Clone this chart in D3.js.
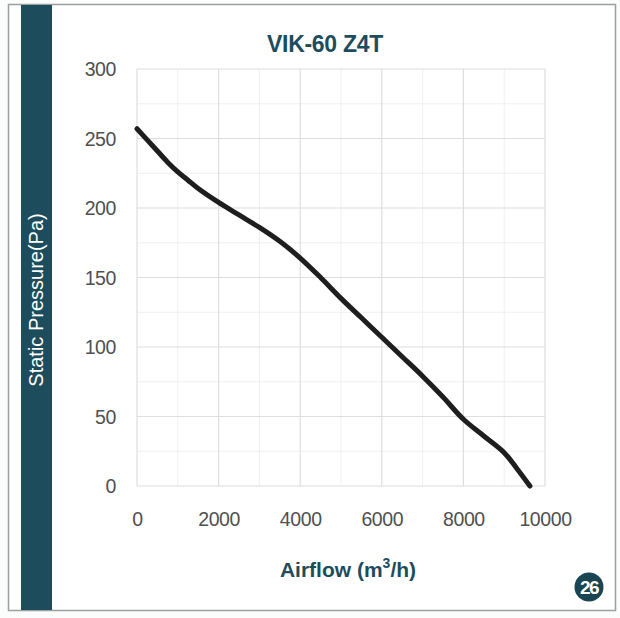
<!DOCTYPE html>
<html><head><meta charset="utf-8">
<script src="https://cdn.jsdelivr.net/npm/d3@7"></script>
<style>body{margin:0;background:#fff;}svg{display:block;}</style>
</head><body>
<svg id="c" width="620" height="618"></svg>
<script>
const title = "VIK-60 Z4T";
const airflow = [0, 250, 500, 750, 1000, 1250, 1500, 2000, 2500, 3000, 3500, 4000, 4500, 5000, 5500, 6000, 6500, 7000, 7500, 8000, 8500, 9000, 9300, 9630];
const pressure = [257, 249, 241, 233, 226, 220, 214, 204, 195, 186, 176, 164, 150, 135, 121, 107, 93, 79, 64, 48, 36, 24, 13, 0];
const xTicks = [0, 2000, 4000, 6000, 8000, 10000];
const yTicks = [0, 50, 100, 150, 200, 250, 300];
const xMinor = [1000, 3000, 5000, 7000, 9000];
const yMinor = [25, 75, 125, 175, 225, 275];

const svg = d3.select("#c");
const teal = "#1d4d5c";
const font = "Liberation Sans, Arial, sans-serif";
// frame
svg.append("rect").attr("x", 0).attr("y", 0).attr("width", 620).attr("height", 618).attr("fill", "#fbfdfd");
svg.append("rect").attr("x", 8.5).attr("y", 4.5).attr("width", 607).attr("height", 606)
  .attr("fill", "#ffffff").attr("stroke", "#9aa0a0").attr("stroke-width", 1.5);
svg.append("rect").attr("x", 21).attr("y", 5).attr("width", 31).attr("height", 605).attr("fill", teal);

const x = d3.scaleLinear().domain([0, 10000]).range([137, 545]);
const y = d3.scaleLinear().domain([0, 300]).range([486, 69]);

const g = svg.append("g");
// minor grid
g.selectAll(".vx").data(xMinor).join("line")
  .attr("x1", d => x(d)).attr("x2", d => x(d)).attr("y1", y(0)).attr("y2", y(300))
  .attr("stroke", "#f0f0f0").attr("stroke-width", 1);
g.selectAll(".hy").data(yMinor).join("line")
  .attr("y1", d => y(d)).attr("y2", d => y(d)).attr("x1", x(0)).attr("x2", x(10000))
  .attr("stroke", "#f0f0f0").attr("stroke-width", 1);
// major grid
g.selectAll(".mx").data(xTicks).join("line")
  .attr("x1", d => x(d)).attr("x2", d => x(d)).attr("y1", y(0)).attr("y2", y(300))
  .attr("stroke", "#dedede").attr("stroke-width", 1.2);
g.selectAll(".my").data(yTicks).join("line")
  .attr("y1", d => y(d)).attr("y2", d => y(d)).attr("x1", x(0)).attr("x2", x(10000))
  .attr("stroke", "#dedede").attr("stroke-width", 1.2);

// axes via d3
const xAxis = svg.append("g").attr("transform", `translate(0,${y(0)})`)
  .call(d3.axisBottom(x).tickValues(xTicks).tickSize(0).tickPadding(26).tickFormat(d3.format("d")));
const yAxis = svg.append("g").attr("transform", `translate(${x(0)},0)`)
  .call(d3.axisLeft(y).tickValues(yTicks).tickSize(0).tickPadding(21).tickFormat(d3.format("d")));
[xAxis, yAxis].forEach(a => {
  a.select(".domain").remove();
  a.selectAll("text").attr("font-family", font)
    .attr("font-size", 19.5).attr("fill", "#505050").attr("letter-spacing", "-0.4");
});
yAxis.selectAll("text").attr("dy", "0.35em");

// curve
const pts = airflow.map((a, i) => [a, pressure[i]]);
svg.append("path").datum(pts)
  .attr("d", d3.line().x(d => x(d[0])).y(d => y(d[1])).curve(d3.curveCatmullRom.alpha(0.5)))
  .attr("fill", "none").attr("stroke", "#1e1e1e").attr("stroke-width", 5)
  .attr("stroke-linecap", "round").attr("stroke-linejoin", "round");

// title
svg.append("text").attr("x", 325).attr("y", 52).attr("text-anchor", "middle")
  .attr("font-family", font).attr("font-size", 23).attr("font-weight", "bold")
  .attr("fill", teal).attr("letter-spacing", "-0.3").text(title);

// y title
svg.append("text").attr("transform", "translate(43,300) rotate(-90)").attr("text-anchor", "middle")
  .attr("font-family", font).attr("font-size", 20)
  .attr("fill", "#ffffff").text("Static Pressure(Pa)");

// x title
const xt = svg.append("text").attr("x", 348).attr("y", 577).attr("text-anchor", "middle")
  .attr("font-family", font).attr("font-size", 21).attr("font-weight", "bold")
  .attr("fill", teal);
xt.append("tspan").text("Airflow (m");
xt.append("tspan").attr("dy", -9).attr("font-size", 14).text("3");
xt.append("tspan").attr("dy", 9).text("/h)");

// badge
svg.append("circle").attr("cx", 589).attr("cy", 587).attr("r", 14.5).attr("fill", "#1a4552");
svg.append("text").attr("x", 589).attr("y", 594).attr("text-anchor", "middle")
  .attr("font-family", font).attr("font-size", 19).attr("font-weight", "bold")
  .attr("fill", "#ffffff").attr("letter-spacing", "-1.5").text("26");
</script>
</body></html>
